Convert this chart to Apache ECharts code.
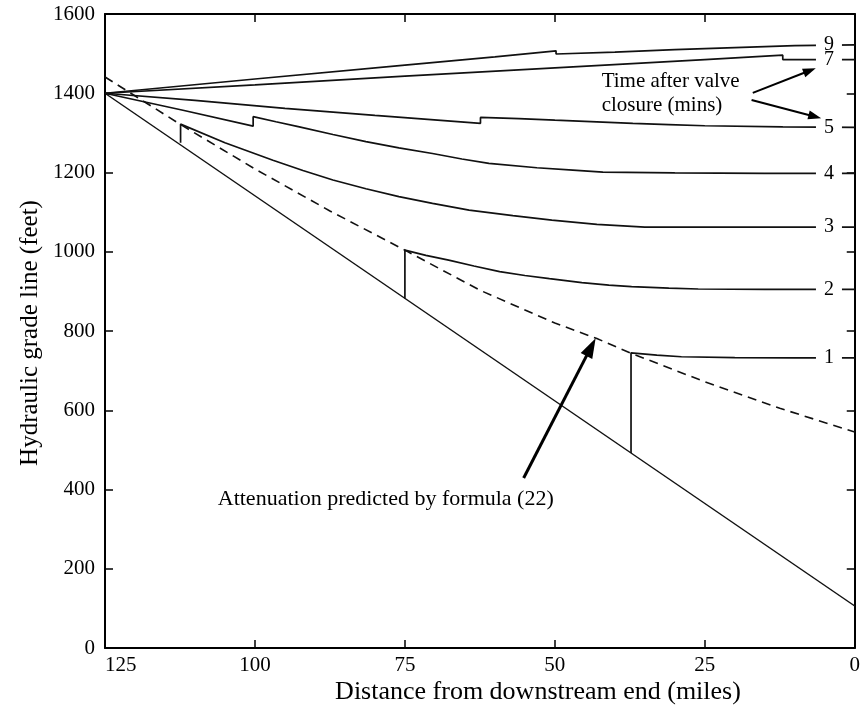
<!DOCTYPE html>
<html><head><meta charset="utf-8">
<script src="https://cdn.jsdelivr.net/npm/echarts@6/dist/echarts.min.js"></script>
<style>html,body{margin:0;padding:0;background:#fff}#c{width:863px;height:718px}</style>
</head><body><div id="c"></div>
<script>
const FONT = '"Liberation Serif", "Times New Roman", serif';

// axis ranges / ticks
const xMin = 0, xMax = 125, xStep = 25;
const yMin = 0, yMax = 1600, yStep = 200;

// steady-state hydraulic grade line
const steadyX = [125, 0];
const steadyH = [1400, 106];

// attenuation predicted by formula (22) – dashed
const dashedX = [125, 112.5, 100, 87.5, 75, 62.5, 50, 43, 37.5, 25, 12.5, 0];
const dashedH = [1441, 1322, 1209, 1103, 1004, 903, 820, 781, 745, 672, 605, 545];

// transient profiles, time after valve closure (mins)
const c1X = [37.3, 37.3, 33, 28.9, 20, 10, 0];
const c1H = [492, 745, 739, 735, 733, 732, 732];

const c2X = [75, 75, 71.5, 67.7, 63.5, 59.2, 55, 50.9, 45.5, 41, 37.2, 31, 26.1, 15, 0];
const c2H = [882, 1004, 991, 979, 964, 950, 940, 932, 922, 916, 912, 908, 906, 905, 905];

const c3X = [112.4, 112.4, 105, 97, 92, 87, 81.5, 76, 70.4, 64.3, 57, 50.5, 43, 35, 20, 0];
const c3H = [1275, 1322, 1275, 1231, 1205, 1181, 1159, 1139, 1122, 1105, 1091, 1080, 1069, 1062, 1062, 1062];

const c4X = [125, 112, 100.3, 100.3, 96.5, 92.6, 87, 81.5, 76, 70.4, 65.5, 61, 53, 47, 42, 30, 15, 0];
const c4H = [1400, 1357, 1317, 1341, 1328, 1315, 1296, 1278, 1262, 1248, 1234, 1223, 1212, 1206, 1201, 1199, 1198, 1198];

const c5X = [125, 110, 95, 80, 62.4, 62.4, 56, 50, 43, 37, 31, 25, 12, 0];
const c5H = [1400, 1382, 1362, 1344, 1324, 1339, 1336, 1332, 1328, 1324, 1321, 1318, 1315, 1314];

const c7X = [125, 100, 75, 50, 25, 12, 12, 0];
const c7H = [1400, 1421, 1443, 1464, 1485, 1496, 1485, 1485];

const c9X = [125, 100, 75, 60, 49.8, 49.8, 40, 30, 20, 10, 0];
const c9H = [1400, 1436, 1471, 1492, 1507, 1499, 1504, 1510, 1515, 1520, 1522];

const curveNames = ['1', '2', '3', '4', '5', '7', '9'];
const curveX = [c1X, c2X, c3X, c4X, c5X, c7X, c9X];
const curveH = [c1H, c2H, c3H, c4H, c5H, c7H, c9H];
const labelAtX = 4.3;

// annotation texts and arrows (data coordinates)
const noteAtten = 'Attenuation predicted by formula (22)';
const noteAttenPos = [106.2, 376];
const noteAttenArrow = [[55.2, 429], [43.2, 782]];
const noteTime = 'Time after valve\nclosure (mins)';
const noteTimePos = [42.2, 1400];
const noteTimeArrows = [[[17.0, 1401], [6.5, 1463]], [[17.2, 1383], [5.6, 1337]]];

const xTitle = 'Distance from downstream end (miles)';
const yTitle = 'Hydraulic grade line (feet)';

const pairs = (X, H) => X.map((x, i) => [x, H[i]]);
const lineCol = '#111';

const series = [];
series.push({
  type: 'line', data: pairs(steadyX, steadyH), showSymbol: false, silent: true,
  lineStyle: { color: lineCol, width: 1.5 }, z: 2
});
series.push({
  type: 'line', data: pairs(dashedX, dashedH), showSymbol: false, silent: true,
  lineStyle: { color: lineCol, width: 1.6, type: [9, 6] }, z: 2
});
curveNames.forEach((nm, k) => {
  const H = curveH[k];
  series.push({
    type: 'line', name: nm, data: pairs(curveX[k], H), showSymbol: false, silent: true,
    lineStyle: { color: lineCol, width: 1.7 }, z: 3,
    markPoint: {
      silent: true, symbol: 'rect', symbolSize: [26, 14],
      itemStyle: { color: '#fff' },
      label: { show: true, formatter: nm, color: '#000', fontSize: 20, fontFamily: FONT },
      data: [{ coord: [labelAtX, H[H.length - 1]] }]
    }
  });
});

const axisCommon = () => ({
  axisLine: { show: true, onZero: false, lineStyle: { color: '#000', width: 2 } },
  axisTick: { show: true, inside: true, length: 8, lineStyle: { color: '#000', width: 1.5 } },
  splitLine: { show: false }
});

const option = {
  animation: false,
  backgroundColor: '#fff',
  grid: { left: 105, right: 6, top: 14, bottom: 70, containLabel: false },
  xAxis: [
    Object.assign({
      type: 'value', min: xMin, max: xMax, interval: xStep, inverse: true, position: 'bottom',
      axisLabel: { color: '#000', fontSize: 21, fontFamily: FONT, margin: 7, alignMaxLabel: 'left',
        formatter: v => String(v) }
    }, axisCommon()),
    Object.assign({
      type: 'value', min: xMin, max: xMax, interval: xStep, inverse: true, position: 'top',
      axisLabel: { show: false }
    }, axisCommon())
  ],
  yAxis: [
    Object.assign({
      type: 'value', min: yMin, max: yMax, interval: yStep, position: 'left',
      axisLabel: { color: '#000', fontSize: 21, fontFamily: FONT, margin: 10,
        formatter: v => String(v) }
    }, axisCommon()),
    Object.assign({
      type: 'value', min: yMin, max: yMax, interval: yStep, position: 'right',
      axisLabel: { show: false }
    }, axisCommon())
  ],
  series: series
};

const chart = echarts.init(document.getElementById('c'), null, { renderer: 'canvas' });
chart.setOption(option);

const P = (p) => chart.convertToPixel({ xAxisIndex: 0, yAxisIndex: 0 }, p);
function arrow(a, b, w, hl, hw) {
  const p0 = P(a), p1 = P(b);
  const dx = p1[0] - p0[0], dy = p1[1] - p0[1], L = Math.hypot(dx, dy);
  const ux = dx / L, uy = dy / L;
  const bx = p1[0] - ux * hl, by = p1[1] - uy * hl;
  return [
    { type: 'line', silent: true, z: 10, shape: { x1: p0[0], y1: p0[1], x2: bx + ux * 2, y2: by + uy * 2 },
      style: { stroke: '#000', lineWidth: w } },
    { type: 'polygon', silent: true, z: 10,
      shape: { points: [[p1[0], p1[1]], [bx - uy * hw, by + ux * hw], [bx + uy * hw, by - ux * hw]] },
      style: { fill: '#000' } }
  ];
}

const g = [];
g.push(...arrow(noteAttenArrow[0], noteAttenArrow[1], 3, 20, 6.5));
noteTimeArrows.forEach(a => g.push(...arrow(a[0], a[1], 2, 13, 4.5)));
const pa = P(noteAttenPos), pt = P(noteTimePos);
g.push({ type: 'text', silent: true, z: 10, x: pa[0], y: pa[1],
  style: { text: noteAtten, fill: '#000', font: '22px ' + FONT, align: 'left', verticalAlign: 'middle' } });
g.push({ type: 'text', silent: true, z: 10, x: pt[0], y: pt[1],
  style: { text: noteTime, fill: '#000', font: '21px ' + FONT, align: 'left', verticalAlign: 'middle', lineHeight: 24 } });
g.push({ type: 'text', silent: true, z: 10, x: 538, y: 692,
  style: { text: xTitle, fill: '#000', font: '26px ' + FONT, align: 'center', verticalAlign: 'middle' } });
g.push({ type: 'text', silent: true, z: 10, x: 30, y: 333, rotation: Math.PI / 2,
  style: { text: yTitle, fill: '#000', font: '25px ' + FONT, align: 'center', verticalAlign: 'middle' } });
chart.setOption({ graphic: { elements: g } });
</script>
</body></html>
